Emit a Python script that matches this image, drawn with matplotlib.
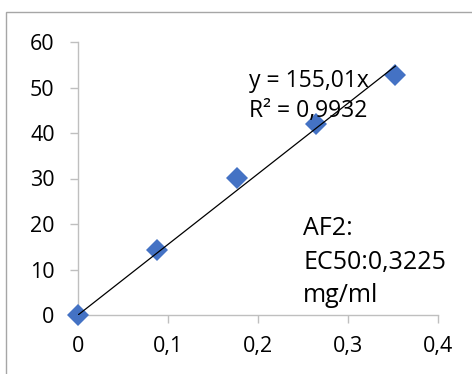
import matplotlib
matplotlib.use("Agg")
import matplotlib.pyplot as plt
from matplotlib.patches import Rectangle
import numpy as np

x_vals = [0.0, 0.0882, 0.1765, 0.2647, 0.3529]
y_vals = [0.0, 14.2, 30.2, 42.0, 52.8]
slope = 155.01
x_ticks = [0, 0.1, 0.2, 0.3, 0.4]
x_labels = ["0", "0,1", "0,2", "0,3", "0,4"]
y_ticks = [0, 10, 20, 30, 40, 50, 60]
y_labels = ["0", "10", "20", "30", "40", "50", "60"]
eq_text = "y = 155,01x\nR² = 0,9932"
note_text = "AF2:\nEC50:0,3225\nmg/ml"

W, H = 472, 374
plt.rcParams['font.family'] = ['Open Sans', 'DejaVu Sans']
fig = plt.figure(figsize=(W/100, H/100), dpi=100)
fig.patches.append(Rectangle((6/W, -0.1), 1.0, (H-12.3)/H + 0.1, transform=fig.transFigure,
                             fill=False, edgecolor='#A6A6A6', linewidth=1.0))

ax = fig.add_axes([78/W, 1-315/H, (437.7-78)/W, (315-42)/H])
ax.set_xlim(0, 0.4)
ax.set_ylim(0, 60)
for s in ['top', 'right']:
    ax.spines[s].set_visible(False)
for s in ['left', 'bottom']:
    ax.spines[s].set_color('#BFBFBF')
    ax.spines[s].set_linewidth(1.0)
ax.set_xticks(x_ticks)
ax.set_xticklabels(x_labels)
ax.set_yticks(y_ticks)
ax.set_yticklabels(y_labels)
ax.tick_params(direction='out', length=5.8, width=1.0, color='#BFBFBF', labelsize=15.5, labelcolor='black')
ax.tick_params(axis='y', pad=11)
ax.tick_params(axis='x', pad=9)

ax.plot(x_vals, y_vals, linestyle='none', marker='D', markersize=11, color='#4472C4',
        markeredgewidth=0, clip_on=False, zorder=3)
xl = np.array([0, x_vals[-1]])
ax.plot(xl, slope*xl, color='black', linewidth=0.9, zorder=4)

fig.text(249/W, 1-96/H, eq_text, fontsize=16.5, ha='left', va='center', linespacing=1.35)
fig.text(303/W, 1-262/H, note_text, fontsize=18, ha='left', va='center', linespacing=1.45)

fig.savefig("out.png", dpi=100)
